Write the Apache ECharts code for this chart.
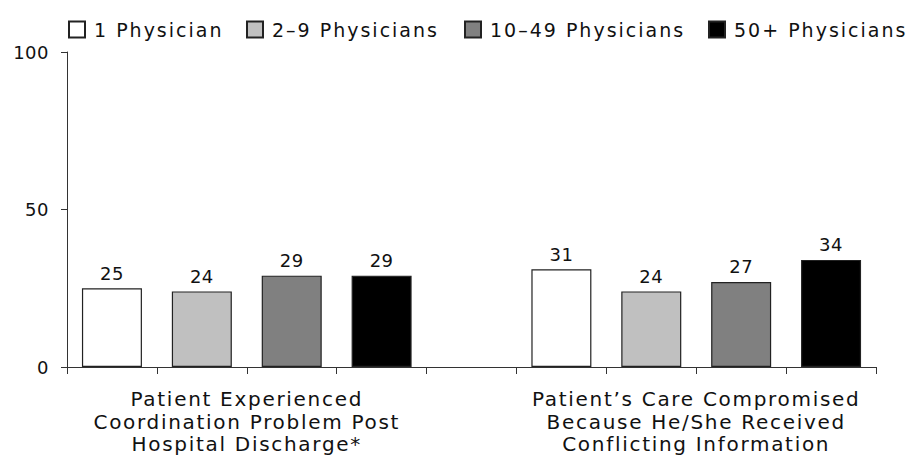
<!DOCTYPE html>
<html>
<head>
<meta charset="utf-8">
<script src="https://cdn.jsdelivr.net/npm/echarts@6/dist/echarts.min.js"></script>
<style>
  html, body { margin: 0; padding: 0; background: #fff; }
  #chart { width: 917px; height: 464px; }
</style>
</head>
<body>
<div id="chart"></div>
<script>
    // groups on the x axis, bars per group
    var categories = [
        'Patient Experienced\nCoordination Problem Post\nHospital Discharge*',
        'Patient\u2019s Care Compromised\nBecause He/She Received\nConflicting Information'
    ];
    var seriesNames = ['1 Physician', '2\u20139 Physicians', '10\u201349 Physicians', '50+ Physicians'];
    var onePhysician = [25, 31];
    var twoToNine = [24, 24];
    var tenToFortyNine = [29, 27];
    var fiftyPlus = [29, 34];
    var yTicks = [0, 50, 100];

    var seriesValues = [onePhysician, twoToNine, tenToFortyNine, fiftyPlus];
    var colors = ['#ffffff', '#c0c0c0', '#808080', '#000000'];
    var legendLefts = [68, 246, 464, 708];

    // each group takes 4 slots, plus one empty slot between groups
    var slotsPerGroup = seriesNames.length + 1;
    var totalSlots = categories.length * slotsPerGroup - 1;

    var chart = echarts.init(document.getElementById('chart'), null, {renderer: 'svg'});
    var font = 'DejaVu Sans';
    var ink = '#111';

    var option = {};
    option.animation = false;
    option.textStyle = {fontFamily: font};
    option.legend = seriesNames.map(function (name, s) {
        return {
            left: legendLefts[s],
            top: 20,
            padding: 0,
            itemWidth: 16,
            itemHeight: 16,
            icon: 'rect',
            textStyle: {fontFamily: font, fontSize: 19, color: ink, padding: [0, 0, 0, 4]},
            data: [name]
        };
    });
    option.grid = {left: 67, right: 41, top: 52, bottom: 97};
    option.xAxis = {
        type: 'value',
        min: 0,
        max: totalSlots,
        interval: 1,
        splitLine: {show: false},
        axisLine: {show: true, lineStyle: {color: '#333'}},
        axisTick: {show: true, length: 7, lineStyle: {color: '#333'}},
        axisLabel: {
            margin: 21,
            fontFamily: font,
            fontSize: 20,
            lineHeight: 22.5,
            color: ink,
            formatter: function (v) {
                // label sits on the middle tick of each group
                for (var g = 0; g < categories.length; g++) {
                    if (v === g * slotsPerGroup + seriesNames.length / 2) return categories[g];
                }
                return '';
            }
        }
    };
    option.yAxis = {
        type: 'value',
        min: yTicks[0],
        max: yTicks[yTicks.length - 1],
        interval: yTicks[1] - yTicks[0],
        splitLine: {show: false},
        axisLine: {show: true, lineStyle: {color: '#333'}},
        axisTick: {show: true, length: 6, lineStyle: {color: '#333'}},
        axisLabel: {margin: 18, fontFamily: font, fontSize: 18, color: ink}
    };
    option.series = seriesNames.map(function (name, s) {
        return {
            name: name,
            type: 'bar',
            barWidth: 60,
            barGap: '-100%',
            itemStyle: {color: colors[s], borderColor: '#222', borderWidth: 1.2},
            label: {
                show: true,
                position: 'top',
                distance: 6,
                fontFamily: font,
                fontSize: 18,
                color: ink,
                formatter: function (p) { return p.value[1]; }
            },
            data: seriesValues[s].map(function (v, g) {
                return [g * slotsPerGroup + s + 0.5, v];
            })
        };
    });
    chart.setOption(option);

    // the original type is set wide: spread out the letters of the word labels
    function spreadText() {
        var texts = document.querySelectorAll('#chart svg text');
        for (var i = 0; i < texts.length; i++) {
            var t = texts[i].textContent;
            var sp = '0.5px';
            if (seriesNames.indexOf(t) >= 0) sp = '2px';
            else if (/[A-Za-z]/.test(t)) sp = '1.7px';
            texts[i].style.letterSpacing = sp;
        }
    }
    chart.on('finished', spreadText);
    spreadText();
</script>
</body>
</html>
